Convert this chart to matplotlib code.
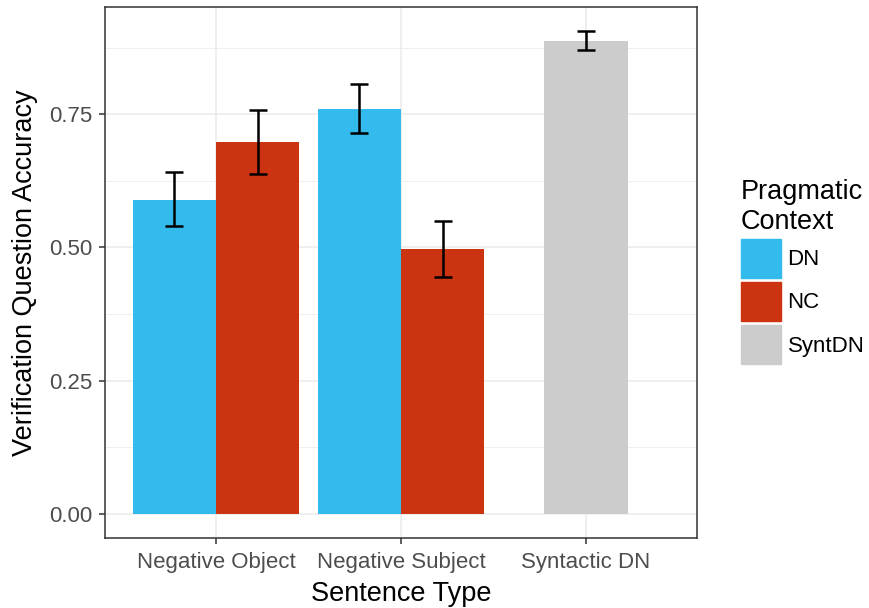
import numpy as np
import matplotlib.pyplot as plt
from matplotlib.patches import Patch
from matplotlib.ticker import MultipleLocator

plt.rcParams['font.family'] = ['Liberation Sans', 'DejaVu Sans']

# data
sentence_types = ["Negative Object", "Negative Subject", "Syntactic DN"]
dn_mean = [0.590, 0.760]
dn_low = [0.540, 0.714]
dn_high = [0.641, 0.807]
nc_mean = [0.697, 0.497]
nc_low = [0.637, 0.445]
nc_high = [0.758, 0.549]
synt_mean = [0.887]
synt_low = [0.870]
synt_high = [0.906]

colours = {"DN": "#33BBEE", "NC": "#CC3311", "SyntDN": "#CCCCCC"}

fig = plt.figure(figsize=(8.7, 6.08), dpi=100)
ax = fig.add_axes([105/870, 1-538/608, (697-105)/870, (538-7)/608])

w = 0.45
x = np.arange(1, 4)
err_kw = dict(fmt="none", ecolor="black", elinewidth=1.8, capsize=6.5, capthick=1.8, zorder=3)

xd = x[:2] - w/2
xn = x[:2] + w/2
ax.bar(xd, dn_mean, width=w, color=colours["DN"], zorder=2)
ax.bar(xn, nc_mean, width=w, color=colours["NC"], zorder=2)
ax.bar(x[2:], synt_mean, width=w, color=colours["SyntDN"], zorder=2)

ax.errorbar(xd, dn_mean, yerr=[np.subtract(dn_mean, dn_low), np.subtract(dn_high, dn_mean)], **err_kw)
ax.errorbar(xn, nc_mean, yerr=[np.subtract(nc_mean, nc_low), np.subtract(nc_high, nc_mean)], **err_kw)
ax.errorbar(x[2:], synt_mean, yerr=[np.subtract(synt_mean, synt_low), np.subtract(synt_high, synt_mean)], **err_kw)

ax.set_xlim(0.4, 3.6)
top = 0.906
ax.set_ylim(-0.05*top, 1.05*top)
ax.set_xticks(x)
ax.set_xticklabels(sentence_types)
ax.yaxis.set_major_locator(MultipleLocator(0.25))
ax.yaxis.set_minor_locator(MultipleLocator(0.125))
ax.yaxis.set_major_formatter(lambda v, p: f"{v:.2f}")

ax.grid(True, which="major", color="#EBEBEB", lw=1.1, zorder=0)
ax.grid(True, which="minor", axis="y", color="#EBEBEB", lw=0.55, zorder=0)
ax.set_axisbelow(True)
for s in ax.spines.values():
    s.set_color("#333333")
    s.set_linewidth(1.1)
ax.tick_params(which="major", length=4, width=1.1, color="#333333",
               labelsize=16, labelcolor="#4D4D4D")
ax.tick_params(axis="x", pad=6)
ax.tick_params(axis="y", pad=5)
ax.tick_params(which="minor", length=0)

ax.set_xlabel("Sentence Type", fontsize=19.5, labelpad=6)
ax.set_ylabel("Verification Question Accuracy", fontsize=19.5, labelpad=8)

handles = [Patch(color=colours[k], label=k) for k in ["DN", "NC", "SyntDN"]]
fig.legend(handles=handles, title="Pragmatic\nContext", loc="upper left",
           bbox_to_anchor=(732/870, 1-170/608), frameon=False, fontsize=16,
           title_fontsize=19.5, alignment="left", handlelength=1.8, handleheight=2.33,
           labelspacing=0.18, handletextpad=0.3, borderaxespad=0)

fig.savefig("out.png", dpi=100)
